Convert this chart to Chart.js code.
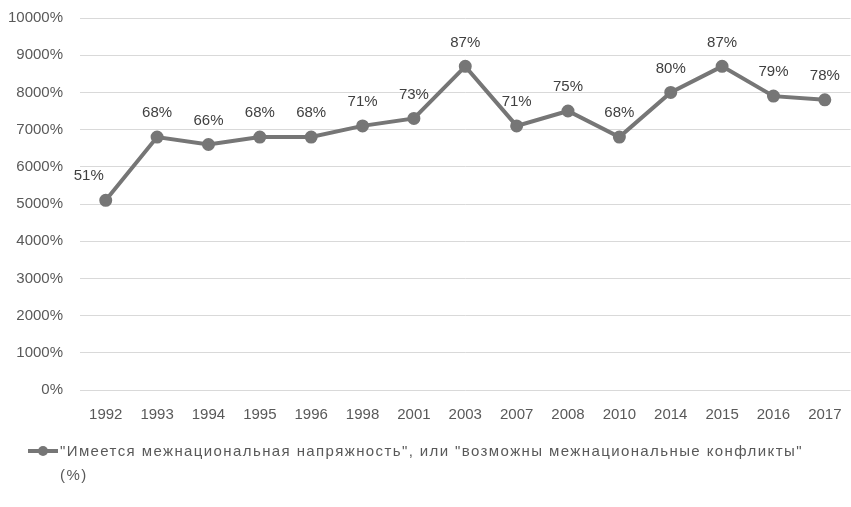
<!DOCTYPE html>
<html>
<head>
<meta charset="utf-8">
<script src="https://cdn.jsdelivr.net/npm/chart.js@4"></script>
<style>
  body { margin: 0; background: #fff; }
  #wrap { position: relative; width: 851px; height: 507px; overflow: hidden; }
  #chart { position: absolute; left: 0; top: -8px; }
  #legend {
    position: absolute; left: 28px; top: 439px; width: 785px;
    font: 15px "Liberation Sans", sans-serif; color: #595959; line-height: 24px;
    letter-spacing: 1.4px;
    display: flex;
  }
  #legend .mark { position: relative; width: 30px; height: 24px; flex: none; margin-right: 2px; }
  #legend .mark::before { content: ""; position: absolute; left: 0; top: 10px; width: 30px; height: 4px; background: #767676; }
  #legend .mark::after { content: ""; position: absolute; left: 10px; top: 7px; width: 10px; height: 10px; border-radius: 50%; background: #767676; }
</style>
</head>
<body>
<div id="wrap">
  <canvas id="chart" width="859" height="507"></canvas>
  <div id="legend"><span class="mark"></span><span id="legendText"></span></div>
</div>
<script>
const years = ["1992","1993","1994","1995","1996","1998","2001","2003","2007","2008","2010","2014","2015","2016","2017"];
const shares = [51, 68, 66, 68, 68, 71, 73, 87, 71, 75, 68, 80, 87, 79, 78];
const seriesName = "\"Имеется межнациональная напряжность\", или \"возможны межнациональные конфликты\" (%)";

document.getElementById("legendText").textContent = seriesName;

// value labels above the points
const pointLabels = {
  id: "pointLabels",
  afterDatasetsDraw(chart) {
    const ctx = chart.ctx;
    const meta = chart.getDatasetMeta(0);
    ctx.save();
    ctx.font = "15px 'Liberation Sans', sans-serif";
    ctx.fillStyle = "#404040";
    ctx.textAlign = "center";
    ctx.textBaseline = "middle";
    meta.data.forEach((pt, i) => {
      let x = pt.x, y = pt.y - 24;
      if (i === 0) { x -= 17; }
      ctx.fillText(shares[i] + "%", x, y);
    });
    ctx.restore();
  }
};

new Chart(document.getElementById("chart"), {
  type: "line",
  data: {
    labels: years,
    datasets: [{
      label: seriesName,
      data: shares,
      borderColor: "#767676",
      backgroundColor: "#767676",
      borderWidth: 4,
      pointRadius: 4.5,
      pointHoverRadius: 4.5,
      tension: 0
    }]
  },
  options: {
    responsive: false,
    animation: false,
    layout: { padding: { top: -5, right: -6, left: -9, bottom: 67 } },
    plugins: {
      legend: { display: false },
      tooltip: { enabled: false }
    },
    scales: {
      x: {
        offset: true,
        grid: { display: false },
        border: { display: false },
        ticks: { color: "#595959", font: { family: "'Liberation Sans', sans-serif", size: 15 }, padding: 8, maxRotation: 0 }
      },
      y: {
        min: 0, max: 100,
        grid: { color: "#d9d9d9", drawTicks: false },
        border: { display: false },
        ticks: {
          stepSize: 10,
          color: "#595959",
          font: { family: "'Liberation Sans', sans-serif", size: 15 },
          padding: 17,
          callback: v => (v * 100) + "%"
        }
      }
    }
  },
  plugins: [pointLabels]
});
</script>
</body>
</html>
